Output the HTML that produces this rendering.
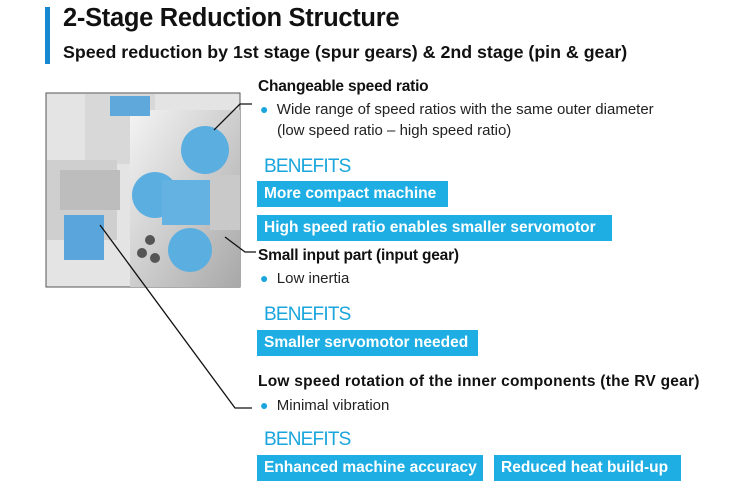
<!DOCTYPE html>
<html><head><meta charset="utf-8"><style>
body{margin:0;width:750px;height:500px;background:#fff;font-family:"Liberation Sans",sans-serif;position:relative;overflow:hidden;color:#111}
.a{position:absolute;white-space:nowrap}
.b{font-weight:bold}
.h{font-size:15.5px;font-weight:bold;letter-spacing:-0.2px}
.t{font-size:15px;letter-spacing:0px;color:#222}
.ben{font-size:19px;color:#1aa6dc;letter-spacing:-0.8px}
.box{position:absolute;background:#1eaee3;color:#fff;font-weight:bold;font-size:15.5px;letter-spacing:0px;height:26px;line-height:26px;padding-left:7px;box-sizing:border-box}
.dot{color:#1aa6dc;font-size:14px}
</style></head><body>
<div class="a" style="left:45px;top:7px;width:5px;height:57px;background:#1787d0"></div>
<div class="a b" style="left:63px;top:4px;font-size:25.5px;letter-spacing:-0.3px">2-Stage Reduction Structure</div>
<div class="a b" style="left:63px;top:42px;font-size:17.8px;letter-spacing:0px">Speed reduction by 1st stage (spur gears) &amp; 2nd stage (pin &amp; gear)</div>

<svg class="a" style="left:0;top:0" width="750" height="500">
<defs>
<linearGradient id="m" x1="0" y1="0" x2="1" y2="1"><stop offset="0" stop-color="#f4f4f4"/><stop offset="1" stop-color="#a8a8a8"/></linearGradient>
</defs>
<rect x="46" y="93" width="194" height="194" fill="#e4e4e4" stroke="#555" stroke-width="1"/>
<rect x="85" y="94" width="70" height="70" fill="#d8d8d8"/>
<rect x="130" y="110" width="110" height="177" fill="url(#m)"/>
<rect x="47" y="160" width="70" height="80" fill="#cfcfcf"/>
<rect x="60" y="170" width="60" height="40" fill="#bdbdbd"/>
<rect x="110" y="96" width="40" height="20" fill="#5fa8dc"/>
<circle cx="205" cy="150" r="24" fill="#5aaee0"/>
<circle cx="155" cy="195" r="23" fill="#5aaee0"/>
<circle cx="190" cy="250" r="22" fill="#5aaee0"/>
<rect x="162" y="180" width="55" height="45" fill="#63b2e2"/>
<rect x="210" y="175" width="30" height="55" fill="#c9c9c9"/>
<rect x="64" y="215" width="40" height="45" fill="#5aa6dc"/>
<circle cx="150" cy="240" r="5" fill="#555"/><circle cx="142" cy="253" r="5" fill="#555"/><circle cx="155" cy="258" r="5" fill="#555"/>
<g stroke="#111" stroke-width="1.3" fill="none">
<polyline points="214,130 240,104 252,104"/>
<polyline points="225,237 245,252 256,252"/>
<polyline points="100,225 235,408 252,408"/>
</g>
</svg>

<div class="a h" style="left:258px;top:78px">Changeable speed ratio</div>
<div class="a t" style="left:260px;top:101px"><span class="dot">●</span>&nbsp; Wide range of speed ratios with the same outer diameter</div>
<div class="a t" style="left:277px;top:122px">(low speed ratio – high speed ratio)</div>
<div class="a ben" style="left:264px;top:156px">BENEFITS</div>
<div class="box" style="left:257px;top:181px;width:191px">More compact machine</div>
<div class="box" style="left:257px;top:215px;width:355px">High speed ratio enables smaller servomotor</div>

<div class="a h" style="left:258px;top:247px">Small input part (input gear)</div>
<div class="a t" style="left:260px;top:270px"><span class="dot">●</span>&nbsp; Low inertia</div>
<div class="a ben" style="left:264px;top:304px">BENEFITS</div>
<div class="box" style="left:257px;top:330px;width:221px">Smaller servomotor needed</div>

<div class="a h" style="left:258px;top:373px;font-size:15.5px;letter-spacing:0.25px">Low speed rotation of the inner components (the RV gear)</div>
<div class="a t" style="left:260px;top:397px"><span class="dot">●</span>&nbsp; Minimal vibration</div>
<div class="a ben" style="left:264px;top:429px">BENEFITS</div>
<div class="box" style="left:257px;top:455px;width:226px">Enhanced machine accuracy</div>
<div class="box" style="left:494px;top:455px;width:187px">Reduced heat build-up</div>
</body></html>
